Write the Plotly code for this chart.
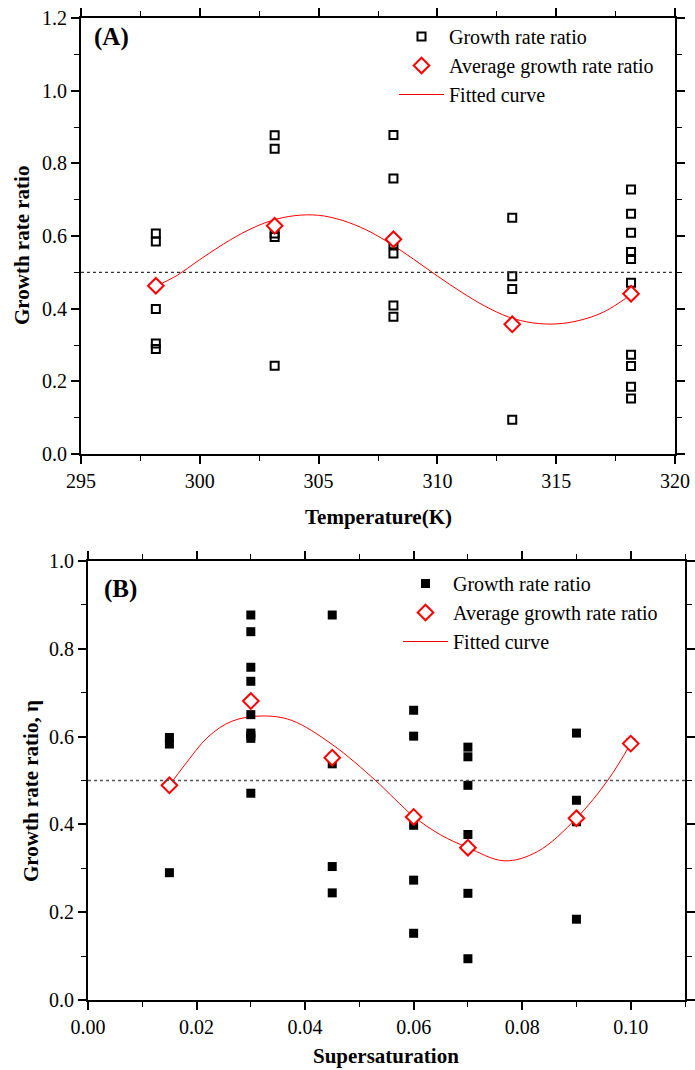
import plotly.graph_objects as go

# ---------------- Panel A data ----------------
temps_a = [298.15, 303.15, 308.15, 313.15, 318.15]
ratio_a_298 = [0.607, 0.585, 0.399, 0.304, 0.289]
ratio_a_303 = [0.877, 0.840, 0.607, 0.597, 0.243]
ratio_a_308 = [0.878, 0.758, 0.577, 0.552, 0.409, 0.378]
ratio_a_313 = [0.650, 0.489, 0.454, 0.094]
ratio_a_318 = [0.728, 0.661, 0.609, 0.556, 0.537, 0.471, 0.273, 0.242, 0.185, 0.153]
avg_a = [0.463, 0.628, 0.591, 0.357, 0.441]
curve_a_x = [298.15, 299, 300, 301, 302, 303, 304, 305, 306, 307, 308, 309, 310,
             311, 312, 313, 314, 315, 316, 317, 318, 318.15]
curve_a_y = [0.462, 0.490, 0.535, 0.578, 0.615, 0.642, 0.656, 0.657, 0.643, 0.617,
             0.580, 0.536, 0.490, 0.446, 0.407, 0.377, 0.361, 0.358, 0.368, 0.391,
             0.432, 0.440]

# ---------------- Panel B data ----------------
super_b = [0.015, 0.030, 0.045, 0.060, 0.070, 0.090, 0.100]
ratio_b_015 = [0.598, 0.583, 0.290]
ratio_b_030 = [0.877, 0.839, 0.758, 0.726, 0.650, 0.608, 0.602, 0.596, 0.471]
ratio_b_045 = [0.877, 0.553, 0.538, 0.304, 0.244]
ratio_b_060 = [0.660, 0.601, 0.398, 0.273, 0.152]
ratio_b_070 = [0.576, 0.554, 0.489, 0.377, 0.243, 0.094]
ratio_b_090 = [0.608, 0.455, 0.406, 0.184]
ratio_b_100 = [0.586]
avg_b = [0.489, 0.681, 0.552, 0.417, 0.347, 0.414, 0.584]
curve_b_x = [0.015, 0.0178, 0.0221, 0.0265, 0.032, 0.0375, 0.045, 0.0529, 0.0566,
             0.0601, 0.065, 0.070, 0.0767, 0.0828, 0.090, 0.0958, 0.100]
curve_b_y = [0.489, 0.535, 0.599, 0.635, 0.647, 0.637, 0.582, 0.501, 0.457,
             0.417, 0.376, 0.347, 0.317, 0.338, 0.414, 0.501, 0.584]

threshold = 0.5

groups_a = [ratio_a_298, ratio_a_303, ratio_a_308, ratio_a_313, ratio_a_318]
groups_b = [ratio_b_015, ratio_b_030, ratio_b_045, ratio_b_060, ratio_b_070, ratio_b_090, ratio_b_100]

xa, ya = [], []
for t, g in zip(temps_a, groups_a):
    xa += [t] * len(g)
    ya += g
xb, yb = [], []
for s, g in zip(super_b, groups_b):
    xb += [s] * len(g)
    yb += g

FONT = "Liberation Serif, Times New Roman, serif"
fig = go.Figure()

# Fitted curves first (drawn beneath markers), legend ranks control order
fig.add_trace(go.Scatter(x=curve_a_x, y=curve_a_y, mode="lines", name="Fitted curve",
                         line=dict(color="red", width=1, shape="spline"),
                         xaxis="x", yaxis="y", legend="legend", legendrank=3))
fig.add_trace(go.Scatter(x=xa, y=ya, mode="markers", name="Growth rate ratio",
                         marker=dict(symbol="square-open", size=8, color="black",
                                     line=dict(width=2, color="black")),
                         xaxis="x", yaxis="y", legend="legend", legendrank=1))
fig.add_trace(go.Scatter(x=temps_a, y=avg_a, mode="markers", name="Average growth rate ratio",
                         marker=dict(symbol="diamond", size=12, color="white",
                                     line=dict(width=2, color="red")),
                         xaxis="x", yaxis="y", legend="legend", legendrank=2))

fig.add_trace(go.Scatter(x=curve_b_x, y=curve_b_y, mode="lines", name="Fitted curve",
                         line=dict(color="red", width=1, shape="spline"),
                         xaxis="x2", yaxis="y2", legend="legend2", legendrank=3))
fig.add_trace(go.Scatter(x=xb, y=yb, mode="markers", name="Growth rate ratio",
                         marker=dict(symbol="square", size=9, color="black"),
                         xaxis="x2", yaxis="y2", legend="legend2", legendrank=1))
fig.add_trace(go.Scatter(x=super_b, y=avg_b, mode="markers", name="Average growth rate ratio",
                         marker=dict(symbol="diamond", size=12, color="white",
                                     line=dict(width=2, color="red")),
                         xaxis="x2", yaxis="y2", legend="legend2", legendrank=2))

W, H = 695, 1070
def dx(px):
    return px / W
def dy(py):
    return 1 - py / H

def ax(**kw):
    d = dict(showline=True, linecolor="black", linewidth=1.8, mirror="ticks",
             ticks="outside", ticklen=8, tickwidth=1.6, tickcolor="black",
             showgrid=False, zeroline=False, automargin=False,
             tickfont=dict(family=FONT, size=20, color="black"))
    d.update(kw)
    return d

MINOR = dict(ticks="outside", ticklen=5, tickwidth=1.4, tickcolor="black")
fig.update_layout(
    width=W, height=H,
    margin=dict(l=0, r=0, t=0, b=0),
    paper_bgcolor="white", plot_bgcolor="white",
    font=dict(family=FONT, color="black"),
    xaxis=ax(domain=[dx(81), dx(675)], range=[295, 320], dtick=5, anchor="y",
             minor=dict(dtick=2.5, **MINOR)),
    yaxis=ax(domain=[dy(454), dy(18)], range=[0, 1.2], dtick=0.2, tickformat=".1f", anchor="x",
             minor=dict(dtick=0.1, **MINOR)),
    xaxis2=ax(domain=[dx(88), dx(685)], range=[0, 0.11],
              tickvals=[0, 0.02, 0.04, 0.06, 0.08, 0.10],
              ticktext=["0.00", "0.02", "0.04", "0.06", "0.08", "0.10"], anchor="y2",
              minor=dict(dtick=0.01, **MINOR)),
    yaxis2=ax(domain=[dy(1000), dy(561)], range=[0, 1.0], dtick=0.2, tickformat=".1f", anchor="x2",
              minor=dict(dtick=0.1, **MINOR)),
    legend=dict(x=dx(394), y=dy(17), xanchor="left", yanchor="top",
                bgcolor="rgba(0,0,0,0)", font=dict(family=FONT, size=20, color="black"),
                itemwidth=45, tracegroupgap=0),
    legend2=dict(x=dx(398), y=dy(564), xanchor="left", yanchor="top",
                 bgcolor="rgba(0,0,0,0)", font=dict(family=FONT, size=20, color="black"),
                 itemwidth=45, tracegroupgap=0),
)

# reference line at threshold
fig.add_shape(type="line", xref="x domain", yref="y", x0=0, x1=1, y0=threshold, y1=threshold,
              line=dict(color="#333333", width=1.2, dash="dot"))
fig.add_shape(type="line", xref="x2 domain", yref="y2", x0=0, x1=1, y0=threshold, y1=threshold,
              line=dict(color="#555555", width=1.5, dash="dot"))

def note(text, x, y, size, angle=0):
    fig.add_annotation(text=text, xref="paper", yref="paper", x=dx(x), y=dy(y),
                       xanchor="center", yanchor="middle", showarrow=False, textangle=angle,
                       font=dict(family=FONT, size=size, color="black"))

# panel labels
note("<b>(A)</b>", 111, 37, 25)
note("<b>(B)</b>", 120, 589, 25)

# axis titles
note("<b>Temperature(K)</b>", 378, 517, 21)
note("<b>Supersaturation</b>", 386, 1056, 21)
note("<b>Growth rate ratio</b>", 22, 246, 21, -90)
note("<b>Growth rate ratio, η</b>", 31, 791, 21, -90)

fig.write_html("out.html", config={"displayModeBar": False},
               post_script="document.body.style.margin='0px';document.body.style.overflow='hidden';")
